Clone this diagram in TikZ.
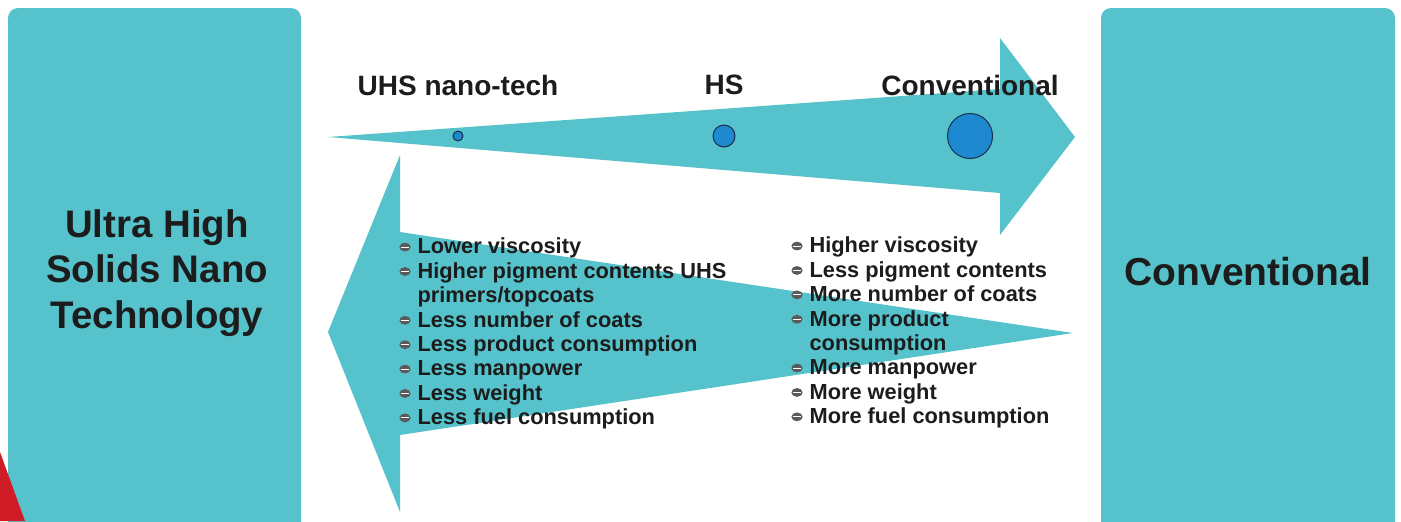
\documentclass[tikz,border=0pt]{standalone}
\usepackage{fontspec}
\setmainfont{Liberation Sans}
\usetikzlibrary{positioning}

\definecolor{panelteal}{RGB}{86,195,204}
\definecolor{dotblue}{RGB}{30,137,208}
\definecolor{dotedge}{RGB}{25,45,75}
\definecolor{inkgray}{RGB}{28,28,28}
\definecolor{bulletgray}{RGB}{90,90,90}
\definecolor{cornerred}{RGB}{208,28,38}

% small list marker
\newcommand{\blt}{\tikz[baseline=-0.6ex]{\fill[bulletgray] (0,0) ellipse (2.8pt and 2.2pt); \draw[white,line width=0.4pt] (-1.9pt,0) -- (1.9pt,0);}}

\tikzset{
  panel/.style={fill=panelteal, rounded corners=5pt, inner sep=0pt, align=center, text=inkgray},
  flowarrow/.style={fill=panelteal},
  dot/.style={circle, fill=dotblue, draw=dotedge, line width=0.5pt, inner sep=0pt},
  toplabel/.style={inner sep=0pt, text=inkgray, font=\fontsize{14}{16}\selectfont\bfseries},
  itemlist/.style={inner sep=0pt, text=inkgray, font=\fontsize{10.9}{12.2}\selectfont\bfseries}
}

\begin{document}
\begin{tikzpicture}[x=0.5pt,y=0.5pt,yscale=-1,xscale=1]
\useasboundingbox (0,0) rectangle (1401,521);
\clip (0,0) rectangle (1401,521);

%Side panels
\node[panel, minimum width=146.5pt, minimum height=264pt, font=\fontsize{19.2}{22.75}\selectfont\bfseries] (leftpanel) at (154.5,272) {};
\node[text=inkgray, align=center, inner sep=0pt, font=\fontsize{19.2}{22.75}\selectfont\bfseries] (lefttitle) at (157,273) {Ultra High\\Solids Nano\\Technology};
\node[panel, minimum width=147pt, minimum height=264pt, font=\fontsize{19.5}{22}\selectfont\bfseries] (rightpanel) at (1248,272) {Conventional};

%Red corner
\fill[cornerred] (0,452) -- (25,521) -- (0,521) -- cycle;

%Upper arrow, pointing right
\fill[flowarrow] (328,137) -- (1000,89) -- (1000,38) -- (1075,137) -- (1000,235) -- (1000,193) -- cycle;
%Lower arrow, pointing left
\fill[flowarrow] (1073,333) -- (400,232) -- (400,155) -- (328,332) -- (400,512) -- (400,435) -- cycle;

%Dots on the upper arrow
\node[dot, minimum size=5pt] (dotuhs) at (458,136) {};
\node[dot, minimum size=11pt] (doths) at (724,136) {};
\node[dot, minimum size=22.5pt] (dotconv) at (970,136) {};

% Text Node
\node[toplabel] (lbluhs) at (458,85) {UHS nano-tech};
\node[toplabel] (lblhs) at (724,85) {HS};
\node[toplabel] (lblconv) at (970,85) {Conventional};

% Text Node
\node[itemlist, anchor=north west] (uhslist) at (399,236.5) {\begin{tabular}{@{}l@{\hspace{3.5pt}}l@{}}
\blt & Lower viscosity\\
\blt & Higher pigment contents UHS\\
 & primers/topcoats\\
\blt & Less number of coats\\
\blt & Less product consumption\\
\blt & Less manpower\\
\blt & Less weight\\
\blt & Less fuel consumption
\end{tabular}};
% Text Node
\node[itemlist, anchor=north west] (convlist) at (791,235.5) {\begin{tabular}{@{}l@{\hspace{3.5pt}}l@{}}
\blt & Higher viscosity\\
\blt & Less pigment contents\\
\blt & More number of coats\\
\blt & More product\\
 & consumption\\
\blt & More manpower\\
\blt & More weight\\
\blt & More fuel consumption
\end{tabular}};

\end{tikzpicture}
\end{document}
